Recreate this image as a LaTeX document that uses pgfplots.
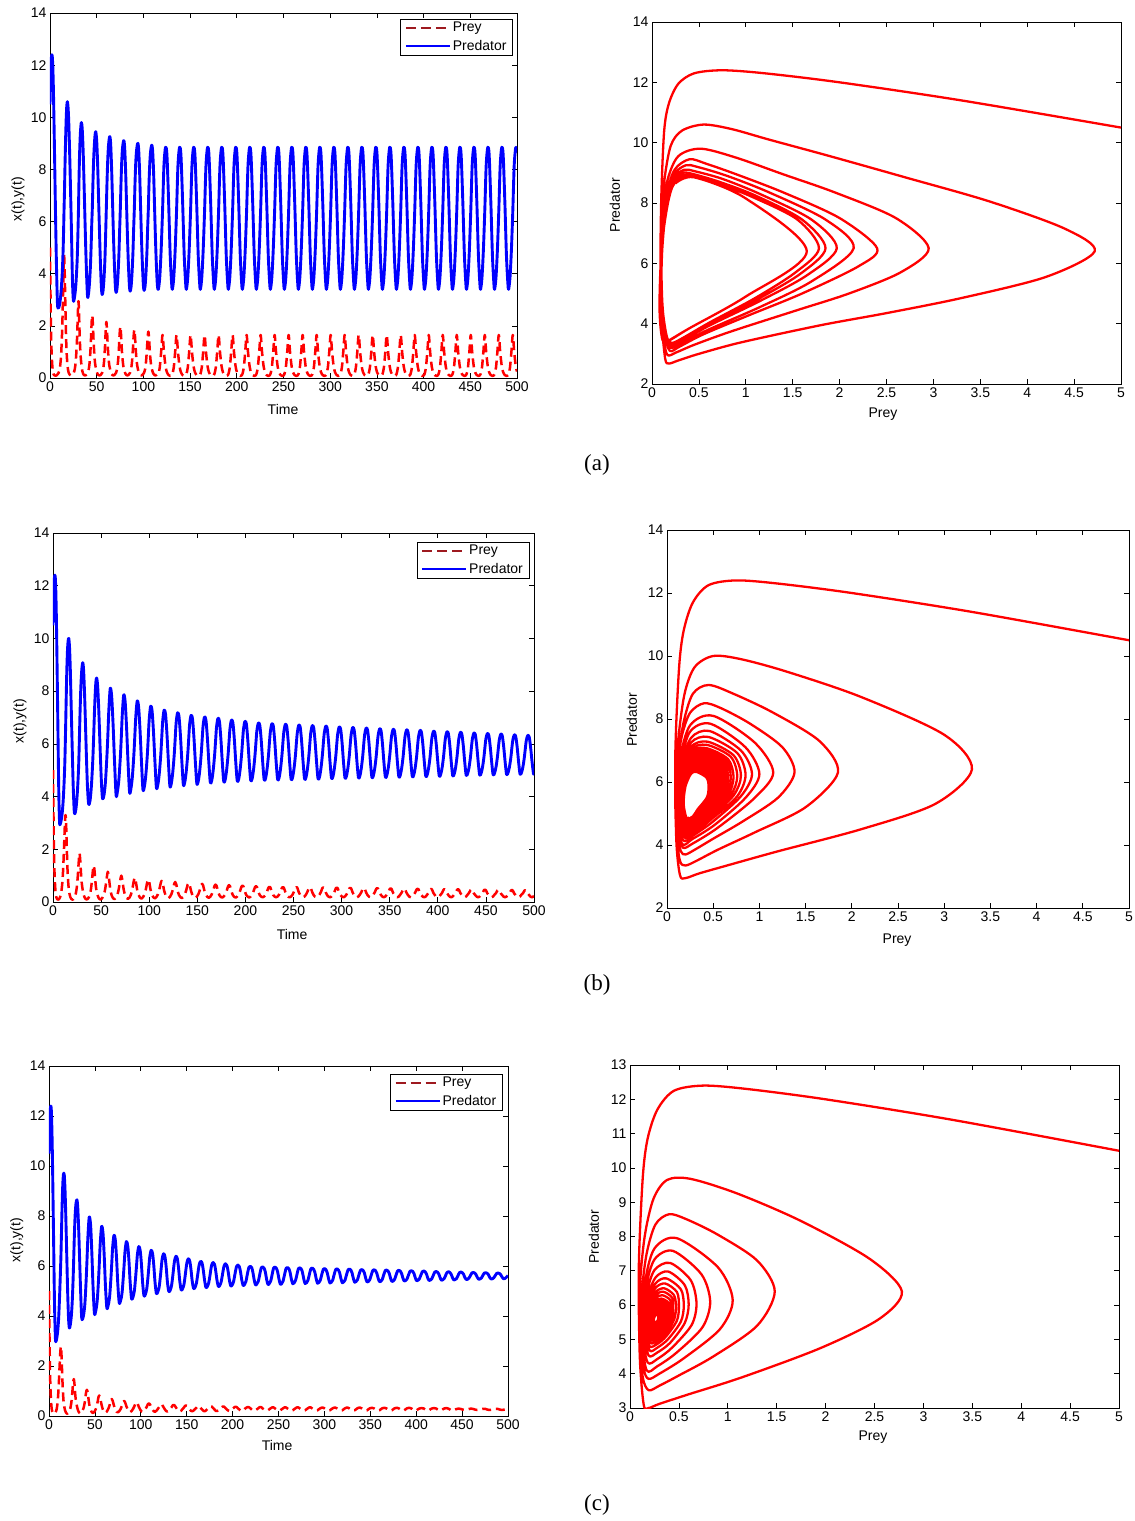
\documentclass[border=0pt]{standalone}
\usepackage{pgfplots}
\usepackage{pgfplotstable}
\pgfplotsset{compat=1.18}
\usepackage{fontspec}
\setmainfont{Liberation Sans}
\newfontfamily\capfont{Liberation Serif}
\definecolor{preyleg}{rgb}{0.62,0.10,0.12}

% ---------- run (a): t, prey, predator ----------
\pgfplotstableread[row sep=\\]{
t prey pred\\
0 5.00 10.50\\ 0.5 3.30 11.40\\ 1 2.00 12.00\\ 1.5 1.20 12.30\\ 2 0.75 12.40\\ 2.5 0.45 12.30\\ 3 0.28 11.95\\ 3.5 0.18 11.30\\ 4 0.13 10.40\\ 5 0.10 8.30\\ 6 0.09 6.10\\ 7 0.10 4.20\\ 8 0.14 2.85\\
9 0.18 2.68\\ 10 0.28 2.78\\ 11 0.50 3.00\\ 12 0.95 3.38\\ 13 1.80 3.95\\ 13.5 2.50 4.35\\ 14 3.30 4.85\\ 14.5 4.20 5.55\\ 15 4.72 6.40\\ 15.5 4.40 7.15\\ 16 3.60 8.05\\ 16.5 2.70 8.85\\ 17 1.90 9.55\\ 17.5 1.25 10.10\\ 18 0.85 10.45\\ 18.6 0.55 10.60\\ 19.3 0.32 10.40\\ 20 0.20 9.90\\ 21 0.13 8.70\\ 22 0.10 7.20\\ 23 0.10 5.60\\ 24 0.12 3.80\\ 25 0.16 2.98\\
26 0.26 3.05\\ 27 0.45 3.30\\ 28 0.85 3.75\\ 29 1.55 4.45\\ 29.5 2.10 5.00\\ 30 2.65 5.70\\ 30.5 2.95 6.50\\ 31 2.60 7.50\\ 31.5 1.95 8.35\\ 32 1.40 8.95\\ 32.7 0.90 9.50\\ 33.6 0.52 9.80\\ 34.5 0.28 9.55\\ 35.5 0.16 8.70\\ 36.5 0.11 7.40\\ 37.5 0.10 6.00\\ 38.5 0.11 4.70\\ 39.5 0.14 3.65\\ 40.3 0.19 3.10\\
41.3 0.30 3.25\\ 42.3 0.55 3.65\\ 43.3 1.05 4.30\\ 44 1.60 5.00\\ 44.7 2.20 5.90\\ 45.3 2.40 6.50\\ 46 2.00 7.50\\ 46.7 1.40 8.35\\ 47.5 0.90 8.95\\ 48.2 0.58 9.30\\ 49 0.40 9.45\\ 50 0.24 9.10\\ 51 0.15 8.20\\ 52 0.11 6.90\\ 53 0.10 5.60\\ 54 0.11 4.40\\ 55 0.15 3.50\\ 55.8 0.20 3.20\\
56.8 0.32 3.35\\ 57.8 0.60 3.80\\ 58.8 1.15 4.55\\ 59.5 1.70 5.40\\ 60.3 2.15 6.50\\ 61 1.85 7.45\\ 61.8 1.25 8.35\\ 62.6 0.80 8.90\\ 63.5 0.48 9.20\\ 64.2 0.36 9.25\\ 65 0.24 8.95\\ 66 0.15 8.00\\ 67 0.11 6.70\\ 68 0.10 5.40\\ 69 0.12 4.30\\ 70 0.16 3.50\\ 70.8 0.21 3.28\\
71.8 0.33 3.45\\ 72.8 0.62 3.95\\ 73.8 1.15 4.75\\ 74.5 1.65 5.60\\ 75.3 1.97 6.50\\ 76 1.70 7.45\\ 76.8 1.15 8.30\\ 77.6 0.75 8.80\\ 78.5 0.46 9.05\\ 79.2 0.34 9.10\\ 80 0.23 8.80\\ 81 0.15 7.90\\ 82 0.11 6.60\\ 83 0.10 5.35\\ 84 0.12 4.30\\ 85 0.16 3.55\\ 85.8 0.21 3.33\\
86.8 0.33 3.50\\ 87.8 0.62 4.00\\ 88.8 1.12 4.80\\ 89.5 1.58 5.65\\ 90.3 1.85 6.50\\ 91 1.60 7.45\\ 91.8 1.10 8.25\\ 92.6 0.72 8.70\\ 93.5 0.45 8.95\\ 94.2 0.33 9.00\\ 95 0.22 8.72\\ 96 0.15 7.85\\ 97 0.11 6.55\\ 98 0.10 5.30\\ 99 0.12 4.30\\ 100 0.16 3.55\\ 100.8 0.21 3.36\\
101.8 0.33 3.53\\ 102.8 0.62 4.05\\ 103.8 1.10 4.85\\ 104.5 1.53 5.70\\ 105.3 1.78 6.50\\ 106 1.55 7.45\\ 106.8 1.07 8.20\\ 107.6 0.70 8.65\\ 108.5 0.44 8.88\\ 109.2 0.33 8.92\\ 110 0.22 8.65\\ 111 0.15 7.80\\ 112 0.11 6.50\\ 113 0.10 5.25\\ 114 0.12 4.25\\ 115 0.15 3.55\\ 116 0.15 3.40\\
117.5 0.40 3.85\\ 119 1.00 4.90\\ 120.5 1.65 6.40\\ 122 1.00 8.15\\ 123.7 0.45 8.85\\ 125.2 0.22 8.55\\ 127 0.11 6.75\\ 128.7 0.08 4.70\\ 130.2 0.10 3.65\\ 131 0.15 3.40\\
132.5 0.40 3.85\\ 134 1.00 4.90\\ 135.5 1.65 6.40\\ 137 1.00 8.15\\ 138.7 0.45 8.85\\ 140.2 0.22 8.55\\ 142 0.11 6.75\\ 143.7 0.08 4.70\\ 145.2 0.10 3.65\\ 146 0.15 3.40\\
147.5 0.40 3.85\\ 149 1.00 4.90\\ 150.5 1.65 6.40\\ 152 1.00 8.15\\ 153.7 0.45 8.85\\ 155.2 0.22 8.55\\ 157 0.11 6.75\\ 158.7 0.08 4.70\\ 160.2 0.10 3.65\\ 161 0.15 3.40\\
162.5 0.40 3.85\\ 164 1.00 4.90\\ 165.5 1.65 6.40\\ 167 1.00 8.15\\ 168.7 0.45 8.85\\ 170.2 0.22 8.55\\ 172 0.11 6.75\\ 173.7 0.08 4.70\\ 175.2 0.10 3.65\\ 176 0.15 3.40\\
177.5 0.40 3.85\\ 179 1.00 4.90\\ 180.5 1.65 6.40\\ 182 1.00 8.15\\ 183.7 0.45 8.85\\ 185.2 0.22 8.55\\ 187 0.11 6.75\\ 188.7 0.08 4.70\\ 190.2 0.10 3.65\\ 191 0.15 3.40\\
192.5 0.40 3.85\\ 194 1.00 4.90\\ 195.5 1.65 6.40\\ 197 1.00 8.15\\ 198.7 0.45 8.85\\ 200.2 0.22 8.55\\ 202 0.11 6.75\\ 203.7 0.08 4.70\\ 205.2 0.10 3.65\\ 206 0.15 3.40\\
207.5 0.40 3.85\\ 209 1.00 4.90\\ 210.5 1.65 6.40\\ 212 1.00 8.15\\ 213.7 0.45 8.85\\ 215.2 0.22 8.55\\ 217 0.11 6.75\\ 218.7 0.08 4.70\\ 220.2 0.10 3.65\\ 221 0.15 3.40\\
222.5 0.40 3.85\\ 224 1.00 4.90\\ 225.5 1.65 6.40\\ 227 1.00 8.15\\ 228.7 0.45 8.85\\ 230.2 0.22 8.55\\ 232 0.11 6.75\\ 233.7 0.08 4.70\\ 235.2 0.10 3.65\\ 236 0.15 3.40\\
237.5 0.40 3.85\\ 239 1.00 4.90\\ 240.5 1.65 6.40\\ 242 1.00 8.15\\ 243.7 0.45 8.85\\ 245.2 0.22 8.55\\ 247 0.11 6.75\\ 248.7 0.08 4.70\\ 250.2 0.10 3.65\\ 251 0.15 3.40\\
252.5 0.40 3.85\\ 254 1.00 4.90\\ 255.5 1.65 6.40\\ 257 1.00 8.15\\ 258.7 0.45 8.85\\ 260.2 0.22 8.55\\ 262 0.11 6.75\\ 263.7 0.08 4.70\\ 265.2 0.10 3.65\\ 266 0.15 3.40\\
267.5 0.40 3.85\\ 269 1.00 4.90\\ 270.5 1.65 6.40\\ 272 1.00 8.15\\ 273.7 0.45 8.85\\ 275.2 0.22 8.55\\ 277 0.11 6.75\\ 278.7 0.08 4.70\\ 280.2 0.10 3.65\\ 281 0.15 3.40\\
282.5 0.40 3.85\\ 284 1.00 4.90\\ 285.5 1.65 6.40\\ 287 1.00 8.15\\ 288.7 0.45 8.85\\ 290.2 0.22 8.55\\ 292 0.11 6.75\\ 293.7 0.08 4.70\\ 295.2 0.10 3.65\\ 296 0.15 3.40\\
297.5 0.40 3.85\\ 299 1.00 4.90\\ 300.5 1.65 6.40\\ 302 1.00 8.15\\ 303.7 0.45 8.85\\ 305.2 0.22 8.55\\ 307 0.11 6.75\\ 308.7 0.08 4.70\\ 310.2 0.10 3.65\\ 311 0.15 3.40\\
312.5 0.40 3.85\\ 314 1.00 4.90\\ 315.5 1.65 6.40\\ 317 1.00 8.15\\ 318.7 0.45 8.85\\ 320.2 0.22 8.55\\ 322 0.11 6.75\\ 323.7 0.08 4.70\\ 325.2 0.10 3.65\\ 326 0.15 3.40\\
327.5 0.40 3.85\\ 329 1.00 4.90\\ 330.5 1.65 6.40\\ 332 1.00 8.15\\ 333.7 0.45 8.85\\ 335.2 0.22 8.55\\ 337 0.11 6.75\\ 338.7 0.08 4.70\\ 340.2 0.10 3.65\\ 341 0.15 3.40\\
342.5 0.40 3.85\\ 344 1.00 4.90\\ 345.5 1.65 6.40\\ 347 1.00 8.15\\ 348.7 0.45 8.85\\ 350.2 0.22 8.55\\ 352 0.11 6.75\\ 353.7 0.08 4.70\\ 355.2 0.10 3.65\\ 356 0.15 3.40\\
357.5 0.40 3.85\\ 359 1.00 4.90\\ 360.5 1.65 6.40\\ 362 1.00 8.15\\ 363.7 0.45 8.85\\ 365.2 0.22 8.55\\ 367 0.11 6.75\\ 368.7 0.08 4.70\\ 370.2 0.10 3.65\\ 371 0.15 3.40\\
372.5 0.40 3.85\\ 374 1.00 4.90\\ 375.5 1.65 6.40\\ 377 1.00 8.15\\ 378.7 0.45 8.85\\ 380.2 0.22 8.55\\ 382 0.11 6.75\\ 383.7 0.08 4.70\\ 385.2 0.10 3.65\\ 386 0.15 3.40\\
387.5 0.40 3.85\\ 389 1.00 4.90\\ 390.5 1.65 6.40\\ 392 1.00 8.15\\ 393.7 0.45 8.85\\ 395.2 0.22 8.55\\ 397 0.11 6.75\\ 398.7 0.08 4.70\\ 400.2 0.10 3.65\\ 401 0.15 3.40\\
402.5 0.40 3.85\\ 404 1.00 4.90\\ 405.5 1.65 6.40\\ 407 1.00 8.15\\ 408.7 0.45 8.85\\ 410.2 0.22 8.55\\ 412 0.11 6.75\\ 413.7 0.08 4.70\\ 415.2 0.10 3.65\\ 416 0.15 3.40\\
417.5 0.40 3.85\\ 419 1.00 4.90\\ 420.5 1.65 6.40\\ 422 1.00 8.15\\ 423.7 0.45 8.85\\ 425.2 0.22 8.55\\ 427 0.11 6.75\\ 428.7 0.08 4.70\\ 430.2 0.10 3.65\\ 431 0.15 3.40\\
432.5 0.40 3.85\\ 434 1.00 4.90\\ 435.5 1.65 6.40\\ 437 1.00 8.15\\ 438.7 0.45 8.85\\ 440.2 0.22 8.55\\ 442 0.11 6.75\\ 443.7 0.08 4.70\\ 445.2 0.10 3.65\\ 446 0.15 3.40\\
447.5 0.40 3.85\\ 449 1.00 4.90\\ 450.5 1.65 6.40\\ 452 1.00 8.15\\ 453.7 0.45 8.85\\ 455.2 0.22 8.55\\ 457 0.11 6.75\\ 458.7 0.08 4.70\\ 460.2 0.10 3.65\\ 461 0.15 3.40\\
462.5 0.40 3.85\\ 464 1.00 4.90\\ 465.5 1.65 6.40\\ 467 1.00 8.15\\ 468.7 0.45 8.85\\ 470.2 0.22 8.55\\ 472 0.11 6.75\\ 473.7 0.08 4.70\\ 475.2 0.10 3.65\\ 476 0.15 3.40\\
477.5 0.40 3.85\\ 479 1.00 4.90\\ 480.5 1.65 6.40\\ 482 1.00 8.15\\ 483.7 0.45 8.85\\ 485.2 0.22 8.55\\ 487 0.11 6.75\\ 488.7 0.08 4.70\\ 490.2 0.10 3.65\\ 491 0.15 3.40\\
492.5 0.40 3.85\\ 494 1.00 4.90\\ 495.5 1.65 6.40\\ 497 1.00 8.15\\ 498.7 0.45 8.85\\ 500 0.25 8.65\\
}\tabA

% ---------- run (b) ----------
\pgfplotstableread[row sep=\\]{
t prey pred\\
0 5.00 10.50\\ 0.5 3.30 11.40\\ 1 2.00 12.00\\ 1.5 1.20 12.30\\ 2 0.75 12.40\\ 2.5 0.45 12.25\\ 3 0.28 11.70\\ 3.5 0.18 10.80\\ 4 0.13 9.60\\ 5 0.09 6.90\\ 6 0.10 4.20\\ 6.8 0.14 3.05\\ 7.5 0.20 2.95\\
8.5 0.35 3.10\\ 9.5 0.65 3.35\\ 10.5 1.20 3.80\\ 11.5 2.10 4.50\\ 12.3 2.90 5.30\\ 13 3.30 6.40\\ 13.6 3.00 7.50\\ 14.3 2.10 8.70\\ 15 1.30 9.50\\ 15.7 0.80 9.90\\ 16.4 0.50 10.00\\ 17.2 0.30 9.65\\ 18 0.19 8.80\\ 19 0.12 7.30\\ 20 0.09 5.80\\ 21 0.10 4.40\\ 22 0.14 3.50\\ 22.7 0.20 3.35\\
23.7 0.32 3.50\\ 24.7 0.55 3.85\\ 25.7 0.95 4.40\\ 26.7 1.50 5.20\\ 27.5 1.85 6.30\\ 28.2 1.65 7.30\\ 29 1.15 8.20\\ 29.9 0.72 8.80\\ 30.9 0.45 9.08\\ 31.8 0.28 8.80\\ 32.8 0.18 7.90\\ 33.8 0.12 6.70\\ 34.8 0.10 5.45\\ 35.8 0.11 4.40\\ 36.8 0.15 3.80\\ 37.5 0.20 3.70\\
38.5 0.30 3.85\\ 39.5 0.50 4.20\\ 40.5 0.82 4.75\\ 41.5 1.20 5.50\\ 42.3 1.38 6.30\\ 43 1.25 7.10\\ 43.8 0.90 7.85\\ 44.6 0.58 8.35\\ 45.4 0.40 8.50\\ 46.4 0.25 8.20\\ 47.4 0.16 7.45\\ 48.4 0.11 6.45\\ 49.4 0.10 5.40\\ 50.4 0.12 4.50\\ 51.5 0.17 3.92\\
53 0.28 4.05\\ 54.5 0.55 4.55\\ 56 0.95 5.50\\ 57 1.15 6.30\\ 58 0.95 7.25\\ 59.5 0.50 8.10\\ 61 0.25 7.80\\ 62.5 0.14 6.70\\ 64 0.11 5.30\\ 65.6 0.16 4.05\\
67 0.28 4.20\\ 68.5 0.52 4.65\\ 70 0.85 5.50\\ 71 1.00 6.25\\ 72 0.85 7.10\\ 73.5 0.47 7.85\\ 75 0.25 7.60\\ 76.5 0.15 6.60\\ 78 0.12 5.30\\ 79.6 0.17 4.17\\
81 0.28 4.30\\ 82.5 0.50 4.75\\ 84 0.80 5.55\\ 85 0.92 6.25\\ 86 0.80 7.00\\ 87.5 0.46 7.62\\ 89 0.26 7.40\\ 90.5 0.16 6.50\\ 92 0.13 5.30\\ 93.5 0.18 4.27\\
95 0.28 4.38\\ 96.5 0.48 4.82\\ 98 0.76 5.55\\ 99 0.85 6.22\\ 100 0.76 6.92\\ 101.5 0.45 7.43\\ 103 0.26 7.25\\ 104.5 0.17 6.42\\ 106 0.14 5.30\\ 107.5 0.19 4.34\\
109 0.29 4.45\\ 110.5 0.47 4.88\\ 112 0.72 5.57\\ 113 0.80 6.20\\ 114 0.72 6.85\\ 115.5 0.44 7.28\\ 117 0.26 7.12\\ 118.5 0.17 6.35\\ 120 0.15 5.30\\ 121.5 0.19 4.40\\
123 0.29 4.50\\ 124.5 0.46 4.92\\ 126 0.69 5.58\\ 127 0.76 6.18\\ 128 0.69 6.80\\ 129.5 0.43 7.18\\ 131 0.26 7.03\\ 132.5 0.18 6.30\\ 134 0.15 5.30\\ 135.5 0.20 4.45\\
137 0.29 4.55\\ 138.5 0.45 4.95\\ 140 0.66 5.58\\ 141 0.72 6.15\\ 142 0.66 6.73\\ 143.5 0.42 7.08\\ 145 0.26 6.95\\ 146.5 0.18 6.25\\ 148 0.16 5.30\\ 149.5 0.20 4.50\\
151 0.29 4.58\\ 152.5 0.44 4.97\\ 154 0.64 5.58\\ 155 0.69 6.13\\ 156 0.64 6.68\\ 157.5 0.41 7.02\\ 159 0.26 6.90\\ 160.5 0.19 6.22\\ 162 0.16 5.30\\ 163.5 0.20 4.54\\
165 0.29 4.61\\ 166.5 0.43 4.99\\ 168 0.62 5.58\\ 169 0.66 6.11\\ 170 0.62 6.64\\ 171.5 0.41 6.97\\ 173 0.26 6.86\\ 174.5 0.19 6.20\\ 176 0.17 5.30\\ 177.5 0.21 4.57\\
179 0.29 4.64\\ 180.5 0.42 5.01\\ 182 0.60 5.58\\ 183 0.64 6.09\\ 184 0.60 6.59\\ 185.5 0.40 6.90\\ 187 0.26 6.80\\ 188.5 0.19 6.17\\ 190 0.17 5.30\\ 191.5 0.21 4.60\\
193 0.29 4.66\\ 194.5 0.42 5.02\\ 196 0.59 5.58\\ 197 0.62 6.08\\ 198 0.59 6.55\\ 199.5 0.40 6.85\\ 201 0.26 6.76\\ 202.5 0.20 6.15\\ 204 0.17 5.30\\ 205.5 0.21 4.62\\
207 0.29 4.68\\ 208.5 0.41 5.03\\ 210 0.57 5.58\\ 211 0.60 6.07\\ 212 0.57 6.52\\ 213.5 0.39 6.79\\ 215 0.26 6.70\\ 216.5 0.20 6.12\\ 218 0.18 5.30\\ 219.5 0.21 4.64\\
221 0.28 4.70\\ 222.5 0.40 5.04\\ 224 0.55 5.57\\ 225 0.58 6.06\\ 226 0.55 6.48\\ 227.5 0.38 6.76\\ 229 0.26 6.68\\ 230.5 0.20 6.10\\ 232 0.18 5.30\\ 233.5 0.21 4.65\\
235 0.28 4.71\\ 236.5 0.39 5.05\\ 238 0.54 5.57\\ 239 0.57 6.05\\ 240 0.54 6.47\\ 241.5 0.38 6.74\\ 243 0.26 6.66\\ 244.5 0.20 6.09\\ 246 0.18 5.30\\ 247.5 0.21 4.66\\
249 0.28 4.72\\ 250.5 0.39 5.05\\ 252 0.54 5.56\\ 253 0.57 6.03\\ 254 0.54 6.44\\ 255.5 0.37 6.71\\ 257 0.26 6.63\\ 258.5 0.20 6.07\\ 260 0.18 5.30\\ 261.5 0.21 4.67\\
263 0.28 4.73\\ 264.5 0.39 5.05\\ 266 0.53 5.56\\ 267 0.56 6.02\\ 268 0.53 6.43\\ 269.5 0.37 6.69\\ 271 0.26 6.61\\ 272.5 0.20 6.06\\ 274 0.18 5.30\\ 275.5 0.21 4.68\\
277 0.28 4.74\\ 278.5 0.38 5.06\\ 280 0.53 5.56\\ 281 0.55 6.01\\ 282 0.53 6.41\\ 283.5 0.37 6.67\\ 285 0.26 6.59\\ 286.5 0.20 6.05\\ 288 0.18 5.30\\ 289.5 0.21 4.70\\
291 0.28 4.76\\ 292.5 0.38 5.07\\ 294 0.52 5.55\\ 295 0.55 6.00\\ 296 0.52 6.39\\ 297.5 0.36 6.64\\ 299 0.26 6.56\\ 300.5 0.20 6.04\\ 302 0.18 5.30\\ 303.5 0.21 4.71\\
305 0.28 4.77\\ 306.5 0.38 5.07\\ 308 0.51 5.55\\ 309 0.54 5.99\\ 310 0.51 6.37\\ 311.5 0.36 6.62\\ 313 0.26 6.54\\ 314.5 0.20 6.03\\ 316 0.18 5.30\\ 317.5 0.21 4.72\\
319 0.28 4.78\\ 320.5 0.37 5.08\\ 322 0.51 5.55\\ 323 0.53 5.98\\ 324 0.51 6.36\\ 325.5 0.36 6.60\\ 327 0.26 6.52\\ 328.5 0.20 6.02\\ 330 0.18 5.30\\ 331.5 0.21 4.73\\
333 0.28 4.79\\ 334.5 0.37 5.08\\ 336 0.50 5.54\\ 337 0.53 5.96\\ 338 0.50 6.33\\ 339.5 0.35 6.57\\ 341 0.26 6.50\\ 342.5 0.20 6.00\\ 344 0.18 5.30\\ 345.5 0.21 4.74\\
347 0.28 4.80\\ 348.5 0.37 5.08\\ 350 0.49 5.54\\ 351 0.52 5.95\\ 352 0.49 6.31\\ 353.5 0.35 6.55\\ 355 0.26 6.48\\ 356.5 0.20 5.99\\ 358 0.18 5.31\\ 359.5 0.21 4.75\\
361 0.28 4.81\\ 362.5 0.36 5.09\\ 364 0.48 5.53\\ 365 0.51 5.94\\ 366 0.48 6.30\\ 367.5 0.35 6.53\\ 369 0.26 6.46\\ 370.5 0.20 5.98\\ 372 0.18 5.31\\ 373.5 0.21 4.76\\
375 0.28 4.82\\ 376.5 0.36 5.09\\ 378 0.48 5.53\\ 379 0.50 5.93\\ 380 0.48 6.28\\ 381.5 0.34 6.51\\ 383 0.26 6.44\\ 384.5 0.20 5.97\\ 386 0.18 5.31\\ 387.5 0.21 4.77\\
389 0.28 4.83\\ 390.5 0.36 5.09\\ 392 0.47 5.52\\ 393 0.50 5.92\\ 394 0.47 6.26\\ 395.5 0.34 6.48\\ 397 0.26 6.41\\ 398.5 0.20 5.95\\ 400 0.18 5.31\\ 401.5 0.21 4.78\\
403 0.28 4.84\\ 404.5 0.35 5.10\\ 406 0.47 5.52\\ 407 0.49 5.91\\ 408 0.47 6.24\\ 409.5 0.34 6.46\\ 411 0.26 6.39\\ 412.5 0.20 5.94\\ 414 0.18 5.31\\ 415.5 0.21 4.79\\
417 0.28 4.85\\ 418.5 0.35 5.10\\ 420 0.46 5.52\\ 421 0.49 5.90\\ 422 0.46 6.23\\ 423.5 0.34 6.44\\ 425 0.26 6.37\\ 426.5 0.20 5.93\\ 428 0.18 5.31\\ 429.5 0.21 4.81\\
431 0.28 4.87\\ 432.5 0.35 5.11\\ 434 0.45 5.51\\ 435 0.48 5.88\\ 436 0.45 6.20\\ 437.5 0.33 6.41\\ 439 0.26 6.35\\ 440.5 0.20 5.91\\ 442 0.18 5.31\\ 443.5 0.21 4.82\\
445 0.28 4.88\\ 446.5 0.34 5.12\\ 448 0.45 5.51\\ 449 0.47 5.87\\ 450 0.45 6.19\\ 451.5 0.33 6.39\\ 453 0.26 6.33\\ 454.5 0.20 5.90\\ 456 0.18 5.31\\ 457.5 0.21 4.83\\
459 0.28 4.89\\ 460.5 0.34 5.12\\ 462 0.44 5.51\\ 463 0.46 5.86\\ 464 0.44 6.17\\ 465.5 0.33 6.37\\ 467 0.26 6.31\\ 468.5 0.20 5.89\\ 470 0.18 5.31\\ 471.5 0.21 4.84\\
473 0.28 4.90\\ 474.5 0.34 5.13\\ 476 0.43 5.50\\ 477 0.46 5.85\\ 478 0.43 6.15\\ 479.5 0.32 6.34\\ 481 0.26 6.28\\ 482.5 0.20 5.88\\ 484 0.18 5.31\\ 485.5 0.21 4.85\\
487 0.28 4.91\\ 488.5 0.33 5.13\\ 490 0.43 5.50\\ 491 0.45 5.83\\ 492 0.43 6.13\\ 493.5 0.32 6.32\\ 495 0.26 6.26\\ 496.5 0.20 5.86\\ 498 0.18 5.31\\ 499.5 0.21 4.86\\ 500 0.24 4.88\\
}\tabB

% ---------- run (c) ----------
\pgfplotstableread[row sep=\\]{
t prey pred\\
0 5.00 10.50\\ 0.5 3.30 11.40\\ 1 2.00 12.00\\ 1.5 1.20 12.30\\ 2 0.75 12.40\\ 2.5 0.45 12.25\\ 3 0.28 11.70\\ 3.5 0.18 10.85\\ 4 0.13 9.70\\ 5 0.09 7.10\\ 6 0.10 4.50\\ 7 0.14 3.10\\ 7.7 0.19 3.00\\
8.5 0.30 3.12\\ 9.5 0.60 3.40\\ 10.5 1.15 3.90\\ 11.5 1.95 4.75\\ 12.3 2.55 5.60\\ 13 2.78 6.40\\ 13.6 2.45 7.35\\ 14.3 1.75 8.45\\ 15 1.10 9.25\\ 15.8 0.62 9.68\\ 16.6 0.38 9.65\\ 17.4 0.24 9.10\\ 18.3 0.15 8.00\\ 19.3 0.10 6.50\\ 20.3 0.10 5.00\\ 21.3 0.13 3.90\\ 22.2 0.19 3.52\\
23.2 0.30 3.65\\ 24.2 0.50 3.95\\ 25.2 0.85 4.50\\ 26.2 1.30 5.40\\ 27 1.48 6.40\\ 27.7 1.30 7.30\\ 28.5 0.90 8.05\\ 29.4 0.58 8.50\\ 30.4 0.40 8.65\\ 31.3 0.26 8.35\\ 32.3 0.17 7.50\\ 33.3 0.12 6.35\\ 34.3 0.11 5.15\\ 35.3 0.14 4.15\\ 36 0.19 3.85\\
37.5 0.30 4.00\\ 39 0.55 4.45\\ 40.3 0.92 5.30\\ 41.3 1.05 6.15\\ 42.3 0.90 7.10\\ 43.8 0.48 7.95\\ 45.3 0.25 7.65\\ 46.6 0.15 6.60\\ 48 0.12 5.15\\ 49.5 0.17 4.10\\
51 0.28 4.22\\ 52.5 0.47 4.60\\ 53.8 0.74 5.35\\ 54.8 0.82 6.10\\ 55.8 0.73 6.90\\ 57.3 0.44 7.58\\ 58.8 0.25 7.33\\ 60.1 0.16 6.45\\ 61.5 0.13 5.20\\ 63 0.18 4.33\\
64.5 0.28 4.43\\ 66 0.43 4.76\\ 67.3 0.63 5.42\\ 68.3 0.68 6.05\\ 69.3 0.62 6.73\\ 70.8 0.41 7.23\\ 72.3 0.25 7.02\\ 73.6 0.17 6.30\\ 75 0.15 5.25\\ 76.5 0.19 4.53\\
78 0.28 4.62\\ 79.5 0.41 4.90\\ 80.8 0.56 5.48\\ 81.8 0.60 6.02\\ 82.8 0.56 6.58\\ 84.3 0.39 6.98\\ 85.8 0.26 6.80\\ 87.1 0.18 6.20\\ 88.5 0.16 5.30\\ 90 0.20 4.68\\
91.5 0.28 4.76\\ 93 0.39 5.01\\ 94.3 0.52 5.52\\ 95.3 0.55 5.99\\ 96.3 0.52 6.46\\ 97.8 0.37 6.78\\ 99.3 0.26 6.63\\ 100.6 0.19 6.12\\ 102 0.17 5.33\\ 103.5 0.20 4.80\\
105 0.28 4.87\\ 106.5 0.37 5.09\\ 107.8 0.48 5.55\\ 108.8 0.50 5.97\\ 109.8 0.48 6.38\\ 111.3 0.36 6.63\\ 112.8 0.26 6.50\\ 114.1 0.19 6.05\\ 115.5 0.17 5.35\\ 117 0.21 4.90\\
118.5 0.28 4.96\\ 120 0.36 5.16\\ 121.3 0.45 5.57\\ 122.3 0.47 5.94\\ 123.3 0.45 6.29\\ 124.8 0.35 6.49\\ 126.3 0.26 6.38\\ 127.6 0.20 5.98\\ 129 0.18 5.36\\ 130.5 0.21 4.98\\
132 0.28 5.03\\ 133.5 0.35 5.22\\ 134.8 0.43 5.59\\ 135.8 0.44 5.93\\ 136.8 0.43 6.22\\ 138.3 0.34 6.39\\ 139.8 0.26 6.29\\ 141.1 0.20 5.93\\ 142.5 0.18 5.38\\ 144 0.21 5.04\\
145.5 0.28 5.09\\ 147 0.34 5.26\\ 148.3 0.41 5.60\\ 149.3 0.42 5.90\\ 150.3 0.41 6.15\\ 151.8 0.33 6.29\\ 153.3 0.26 6.20\\ 154.6 0.21 5.88\\ 156 0.19 5.40\\ 157.5 0.22 5.10\\
159 0.28 5.14\\ 160.5 0.33 5.30\\ 161.8 0.39 5.60\\ 162.8 0.40 5.87\\ 163.8 0.39 6.08\\ 165.3 0.32 6.19\\ 166.8 0.26 6.11\\ 168.1 0.21 5.83\\ 169.5 0.19 5.42\\ 171 0.22 5.14\\
172.5 0.28 5.18\\ 174 0.33 5.33\\ 175.3 0.38 5.61\\ 176.3 0.39 5.86\\ 177.3 0.38 6.05\\ 178.8 0.32 6.14\\ 180.3 0.26 6.07\\ 181.6 0.21 5.81\\ 183 0.20 5.43\\ 184.5 0.22 5.18\\
186 0.28 5.22\\ 187.5 0.33 5.36\\ 188.8 0.37 5.62\\ 189.8 0.38 5.84\\ 190.8 0.37 6.01\\ 192.3 0.31 6.09\\ 193.8 0.26 6.02\\ 195.1 0.22 5.79\\ 196.5 0.20 5.44\\ 198 0.22 5.20\\
199.5 0.28 5.24\\ 201 0.32 5.37\\ 202.3 0.36 5.62\\ 203.3 0.37 5.82\\ 204.3 0.36 5.98\\ 205.8 0.31 6.04\\ 207.3 0.26 5.98\\ 208.6 0.22 5.77\\ 210 0.20 5.44\\ 211.5 0.22 5.22\\
213 0.28 5.26\\ 214.5 0.32 5.38\\ 215.8 0.35 5.62\\ 216.8 0.36 5.80\\ 217.8 0.35 5.95\\ 219.3 0.31 5.99\\ 220.8 0.26 5.94\\ 222.1 0.22 5.75\\ 223.5 0.21 5.45\\ 225 0.23 5.24\\
226.5 0.27 5.29\\ 228 0.31 5.39\\ 229.3 0.35 5.61\\ 230.3 0.36 5.79\\ 231.3 0.35 5.93\\ 232.8 0.30 5.97\\ 234.3 0.26 5.91\\ 235.6 0.23 5.77\\ 237 0.22 5.48\\ 238.5 0.23 5.26\\
240 0.27 5.30\\ 241.5 0.31 5.40\\ 242.8 0.34 5.61\\ 243.8 0.35 5.79\\ 244.8 0.34 5.93\\ 246.3 0.30 5.96\\ 247.8 0.26 5.90\\ 249.1 0.23 5.76\\ 250.5 0.22 5.48\\ 252 0.23 5.27\\
253.5 0.27 5.30\\ 255 0.31 5.40\\ 256.3 0.34 5.61\\ 257.3 0.35 5.77\\ 258.3 0.34 5.91\\ 259.8 0.30 5.94\\ 261.3 0.26 5.89\\ 262.6 0.23 5.75\\ 264 0.22 5.48\\ 265.5 0.23 5.29\\
267 0.27 5.32\\ 268.5 0.31 5.42\\ 269.8 0.34 5.61\\ 270.8 0.35 5.77\\ 271.8 0.34 5.90\\ 273.3 0.30 5.93\\ 274.8 0.26 5.88\\ 276.1 0.23 5.75\\ 277.5 0.22 5.49\\ 279 0.23 5.30\\
280.5 0.27 5.33\\ 282 0.31 5.42\\ 283.3 0.34 5.61\\ 284.3 0.35 5.77\\ 285.3 0.34 5.89\\ 286.8 0.30 5.92\\ 288.3 0.26 5.87\\ 289.6 0.23 5.75\\ 291 0.22 5.50\\ 292.5 0.23 5.31\\
294 0.27 5.34\\ 295.5 0.31 5.43\\ 296.8 0.33 5.61\\ 297.8 0.34 5.75\\ 298.8 0.33 5.87\\ 300.3 0.30 5.90\\ 301.8 0.26 5.85\\ 303.1 0.23 5.73\\ 304.5 0.22 5.50\\ 306 0.23 5.32\\
307.5 0.27 5.35\\ 309 0.31 5.43\\ 310.3 0.33 5.61\\ 311.3 0.34 5.75\\ 312.3 0.33 5.86\\ 313.8 0.30 5.89\\ 315.3 0.26 5.84\\ 316.6 0.23 5.73\\ 318 0.22 5.50\\ 319.5 0.23 5.33\\
321 0.27 5.36\\ 322.5 0.31 5.44\\ 323.8 0.33 5.61\\ 324.8 0.34 5.74\\ 325.8 0.33 5.85\\ 327.3 0.30 5.88\\ 328.8 0.26 5.84\\ 330.1 0.23 5.73\\ 331.5 0.22 5.51\\ 333 0.23 5.35\\
334.5 0.27 5.38\\ 336 0.31 5.45\\ 337.3 0.33 5.61\\ 338.3 0.34 5.73\\ 339.3 0.33 5.83\\ 340.8 0.30 5.86\\ 342.3 0.26 5.82\\ 343.6 0.23 5.72\\ 345 0.22 5.51\\ 346.5 0.23 5.36\\
348 0.27 5.38\\ 349.5 0.31 5.46\\ 350.8 0.32 5.61\\ 351.8 0.33 5.73\\ 352.8 0.32 5.83\\ 354.3 0.30 5.85\\ 355.8 0.26 5.81\\ 357.1 0.23 5.71\\ 358.5 0.22 5.52\\ 360 0.23 5.37\\
361.5 0.27 5.39\\ 363 0.31 5.46\\ 364.3 0.32 5.61\\ 365.3 0.33 5.72\\ 366.3 0.32 5.82\\ 367.8 0.30 5.84\\ 369.3 0.26 5.80\\ 370.6 0.23 5.71\\ 372 0.22 5.52\\ 373.5 0.23 5.38\\
375 0.27 5.40\\ 376.5 0.31 5.47\\ 377.8 0.32 5.61\\ 378.8 0.33 5.72\\ 379.8 0.32 5.81\\ 381.3 0.30 5.83\\ 382.8 0.26 5.79\\ 384.1 0.23 5.70\\ 385.5 0.22 5.52\\ 387 0.23 5.40\\
388.5 0.27 5.42\\ 390 0.31 5.48\\ 391.3 0.32 5.61\\ 392.3 0.33 5.71\\ 393.3 0.32 5.79\\ 394.8 0.30 5.81\\ 396.3 0.26 5.78\\ 397.6 0.23 5.70\\ 399 0.22 5.53\\ 400.5 0.23 5.41\\
402 0.27 5.43\\ 403.5 0.30 5.49\\ 404.8 0.31 5.61\\ 405.8 0.32 5.70\\ 406.8 0.31 5.78\\ 408.3 0.30 5.80\\ 409.8 0.26 5.77\\ 411.1 0.23 5.69\\ 412.5 0.22 5.53\\ 414 0.23 5.42\\
415.5 0.27 5.44\\ 417 0.30 5.49\\ 418.3 0.31 5.60\\ 419.3 0.32 5.69\\ 420.3 0.31 5.76\\ 421.8 0.30 5.78\\ 423.3 0.26 5.75\\ 424.6 0.23 5.68\\ 426 0.22 5.54\\ 427.5 0.23 5.43\\
429 0.27 5.45\\ 430.5 0.30 5.50\\ 431.8 0.31 5.60\\ 432.8 0.32 5.69\\ 433.8 0.31 5.75\\ 435.3 0.29 5.77\\ 436.8 0.26 5.74\\ 438.1 0.23 5.67\\ 439.5 0.22 5.54\\ 441 0.23 5.44\\
442.5 0.26 5.46\\ 444 0.28 5.50\\ 445.3 0.29 5.60\\ 446.3 0.30 5.68\\ 447.3 0.29 5.74\\ 448.8 0.28 5.76\\ 450.3 0.26 5.73\\ 451.6 0.25 5.67\\ 453 0.24 5.54\\ 454.5 0.25 5.46\\
456 0.26 5.47\\ 457.5 0.28 5.52\\ 458.8 0.29 5.60\\ 459.8 0.30 5.67\\ 460.8 0.29 5.73\\ 462.3 0.28 5.74\\ 463.8 0.26 5.72\\ 465.1 0.25 5.66\\ 466.5 0.24 5.55\\ 468 0.25 5.47\\
469.5 0.26 5.48\\ 471 0.28 5.52\\ 472.3 0.29 5.60\\ 473.3 0.29 5.67\\ 474.3 0.29 5.72\\ 475.8 0.28 5.73\\ 477.3 0.26 5.71\\ 478.6 0.25 5.66\\ 480 0.24 5.55\\ 481.5 0.25 5.48\\
483 0.26 5.49\\ 484.5 0.28 5.53\\ 485.8 0.29 5.60\\ 486.8 0.29 5.66\\ 487.8 0.29 5.71\\ 489.3 0.28 5.72\\ 490.8 0.26 5.70\\ 492.1 0.25 5.65\\ 493.5 0.24 5.56\\ 495 0.25 5.49\\
496.5 0.26 5.50\\ 498 0.28 5.54\\ 500 0.29 5.62\\
}\tabC

\newcommand\lab{\fontsize{14}{16}\selectfont}

\pgfplotsset{
  base/.style={scale only axis, anchor=south west,
    axis line style={black, line width=0.7pt},
    every tick/.style={black, line width=0.7pt},
    major tick length=5pt, tick align=inside,
    /pgf/number format/assume math mode=true,
    tick label style={font=\lab},
    label style={font=\lab},
  },
  ts/.style={base, xmin=0, xmax=500, ymin=0, ymax=14,
    xtick={0,50,...,500}, ytick={0,2,...,14},
    xlabel={Time}, ylabel={x(t),y(t)},
    legend cell align=left,
    legend image code/.code={\draw[##1] (0pt,0pt) -- (44pt,0pt);},
    legend style={anchor=north east, draw=black, line width=0.6pt, font=\lab,
      inner xsep=4pt, inner ysep=1pt, row sep=3pt},
  },
  pp/.style={base, xmin=0, xmax=5,
    xtick={0,0.5,1,1.5,2,2.5,3,3.5,4,4.5,5},
    xlabel={Prey}, ylabel={Predator}},
  preyline/.style={red, line width=2.5pt, dash pattern=on 9pt off 5pt, smooth, line join=round},
  predline/.style={blue, line width=2.9pt, smooth, line join=round},
  phaseline/.style={red, line width=2.3pt, smooth, line join=round},
}

\begin{document}
\begin{tikzpicture}
\useasboundingbox (0pt,0pt) rectangle (1135pt,-1521pt);

% (a)
\begin{axis}[ts, at={(50pt,-378pt)}, width=467pt, height=365pt,
  legend style={at={(0.991,0.984)}},
  ylabel style={at={(axis description cs:-0.0685,0.49)}, anchor=center},
  xlabel style={at={(axis description cs:0.499,-0.085)}, anchor=center}]
  \addlegendimage{preyleg, line width=2pt, dash pattern=on 10pt off 5pt}
  \addlegendentry{Prey}
  \addlegendimage{blue, line width=2pt}
  \addlegendentry{Predator}
  \addplot[preyline, forget plot] table[x=t, y=prey]{\tabA};
  \addplot[predline, forget plot] table[x=t, y=pred]{\tabA};
\end{axis}
\begin{axis}[pp, at={(652pt,-384pt)}, width=469pt, height=362pt,
  ymin=2, ymax=14, ytick={2,4,...,14},
  ylabel style={at={(axis description cs:-0.079,0.494)}, anchor=center},
  xlabel style={at={(axis description cs:0.4925,-0.083)}, anchor=center}]
  \addplot[phaseline] table[x=prey, y=pred]{\tabA};
\end{axis}
\node[font=\capfont\fontsize{23}{26}\selectfont] at (597pt,-465pt) {(a)};

% (b)
\begin{axis}[ts, at={(53pt,-902pt)}, width=481pt, height=369pt,
  legend style={at={(0.990,0.976)}},
  ylabel style={at={(axis description cs:-0.0686,0.49)}, anchor=center},
  xlabel style={at={(axis description cs:0.497,-0.087)}, anchor=center}]
  \addlegendimage{preyleg, line width=2pt, dash pattern=on 10pt off 5pt}
  \addlegendentry{Prey}
  \addlegendimage{blue, line width=2pt}
  \addlegendentry{Predator}
  \addplot[preyline, forget plot] table[x=t, y=prey]{\tabB};
  \addplot[predline, forget plot] table[x=t, y=pred]{\tabB};
\end{axis}
\begin{axis}[pp, at={(667pt,-908pt)}, width=462pt, height=378pt,
  ymin=2, ymax=14, ytick={2,4,...,14},
  ylabel style={at={(axis description cs:-0.076,0.497)}, anchor=center},
  xlabel style={at={(axis description cs:0.498,-0.085)}, anchor=center}]
  \addplot[phaseline] table[x=prey, y=pred]{\tabB};
\end{axis}
\node[font=\capfont\fontsize{23}{26}\selectfont] at (597pt,-985pt) {(b)};

% (c)
\begin{axis}[ts, at={(49pt,-1416pt)}, width=459pt, height=350pt,
  legend style={at={(0.988,0.977)}},
  ylabel style={at={(axis description cs:-0.07,0.503)}, anchor=center},
  xlabel style={at={(axis description cs:0.497,-0.083)}, anchor=center}]
  \addlegendimage{preyleg, line width=2pt, dash pattern=on 10pt off 5pt}
  \addlegendentry{Prey}
  \addlegendimage{blue, line width=2pt}
  \addlegendentry{Predator}
  \addplot[preyline, forget plot] table[x=t, y=prey]{\tabC};
  \addplot[predline, forget plot] table[x=t, y=pred]{\tabC};
\end{axis}
\begin{axis}[pp, at={(630pt,-1408pt)}, width=489pt, height=343pt,
  ymin=3, ymax=13, ytick={3,4,...,13},
  ylabel style={at={(axis description cs:-0.074,0.5)}, anchor=center},
  xlabel style={at={(axis description cs:0.497,-0.085)}, anchor=center}]
  \addplot[phaseline] table[x=prey, y=pred]{\tabC};
\end{axis}
\node[font=\capfont\fontsize{23}{26}\selectfont] at (597pt,-1505pt) {(c)};
\end{tikzpicture}
\end{document}
